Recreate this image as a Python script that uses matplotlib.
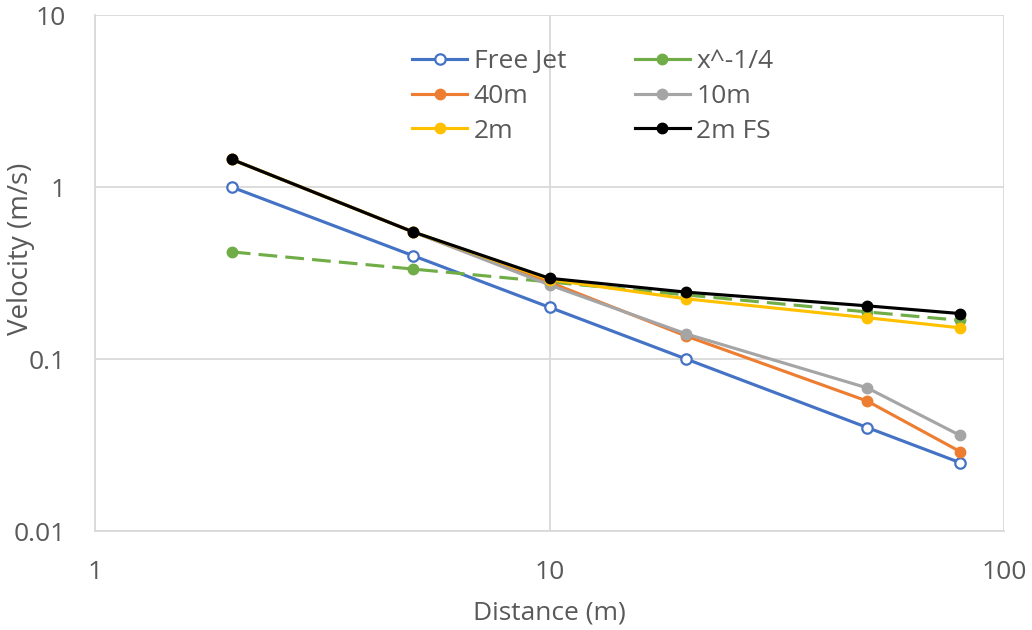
import matplotlib
matplotlib.use("Agg")
import matplotlib.pyplot as plt
from matplotlib.lines import Line2D
from matplotlib.ticker import FixedLocator, FixedFormatter, NullLocator

plt.rcParams['font.family'] = ['Open Sans', 'DejaVu Sans']

distance = [2, 5, 10, 20, 50, 80]
free_jet = [1.0, 0.40, 0.20, 0.10, 0.040, 0.025]
x_quarter = [0.42, 0.334, 0.281, 0.236, 0.188, 0.168]
v_40m = [1.45, 0.55, 0.28, 0.136, 0.057, 0.029]
v_10m = [1.45, 0.55, 0.27, 0.140, 0.068, 0.036]
v_2m = [1.45, 0.55, 0.29, 0.224, 0.174, 0.152]
v_2mfs = [1.45, 0.55, 0.295, 0.245, 0.204, 0.184]

x_ticks = [1, 10, 100]
x_tick_labels = ["1", "10", "100"]
y_ticks = [0.01, 0.1, 1, 10]
y_tick_labels = ["0.01", "0.1", "1", "10"]

fig = plt.figure(figsize=(10.32, 6.3), dpi=100)
ax = fig.add_axes([0.092, 0.157, 0.881, 0.819])

lw = 2.25
ms = 7.5
green = '#70AD47'
h_free = ax.plot(distance, free_jet, color='#4472C4', lw=lw, marker='o', ms=ms,
                 mfc='white', mec='#4472C4', mew=1.6, label='Free Jet', zorder=3)[0]
ax.plot(distance, x_quarter, color=green, lw=lw, ls=(0, (6, 2.6)), marker='o', ms=ms,
        zorder=3)
h_x = Line2D([], [], color=green, lw=lw, marker='o', ms=ms, label='x^-1/4')
h_40 = ax.plot(distance, v_40m, color='#ED7D31', lw=lw, marker='o', ms=ms, label='40m', zorder=3)[0]
h_10 = ax.plot(distance, v_10m, color='#A5A5A5', lw=lw, marker='o', ms=ms, label='10m', zorder=3)[0]
h_2 = ax.plot(distance, v_2m, color='#FFC000', lw=lw, marker='o', ms=ms, label='2m', zorder=3)[0]
h_2fs = ax.plot(distance, v_2mfs, color='#000000', lw=lw, marker='o', ms=ms, label='2m FS', zorder=3)[0]

ax.set_xscale('log')
ax.set_yscale('log')
ax.set_xlim(1, 100)
ax.set_ylim(0.01, 10)
ax.xaxis.set_major_locator(FixedLocator(x_ticks))
ax.xaxis.set_major_formatter(FixedFormatter(x_tick_labels))
ax.yaxis.set_major_locator(FixedLocator(y_ticks))
ax.yaxis.set_major_formatter(FixedFormatter(y_tick_labels))
ax.xaxis.set_minor_locator(NullLocator())
ax.yaxis.set_minor_locator(NullLocator())

ax.grid(True, which='major', color='#D9D9D9', lw=1.3, zorder=0)
ax.set_axisbelow(True)
for s in ['top', 'right']:
    ax.spines[s].set_visible(False)
for s in ['left', 'bottom']:
    ax.spines[s].set_color('#D9D9D9')
    ax.spines[s].set_linewidth(1.3)
fs = 19
ax.tick_params(length=0, labelsize=fs, labelcolor='#595959')
ax.tick_params(axis='x', pad=21)
ax.tick_params(axis='y', pad=21)

ax.set_xlabel('Distance (m)', fontsize=fs, color='#595959', labelpad=11)
ax.set_ylabel('Velocity (m/s)', fontsize=20, color='#595959')
ax.yaxis.set_label_coords(-0.066, 0.548)

handles = [h_free, h_40, h_2, h_x, h_10, h_2fs]
labels = [h.get_label() for h in handles]
leg = ax.legend(handles, labels, ncol=2, loc='upper left', bbox_to_anchor=(0.349, 0.934),
                frameon=False, fontsize=fs, labelcolor='#595959', handlelength=2.08,
                columnspacing=2.6, handletextpad=0.25, labelspacing=0.37,
                borderpad=0, borderaxespad=0)

fig.savefig('out.png', dpi=100, facecolor='white')
